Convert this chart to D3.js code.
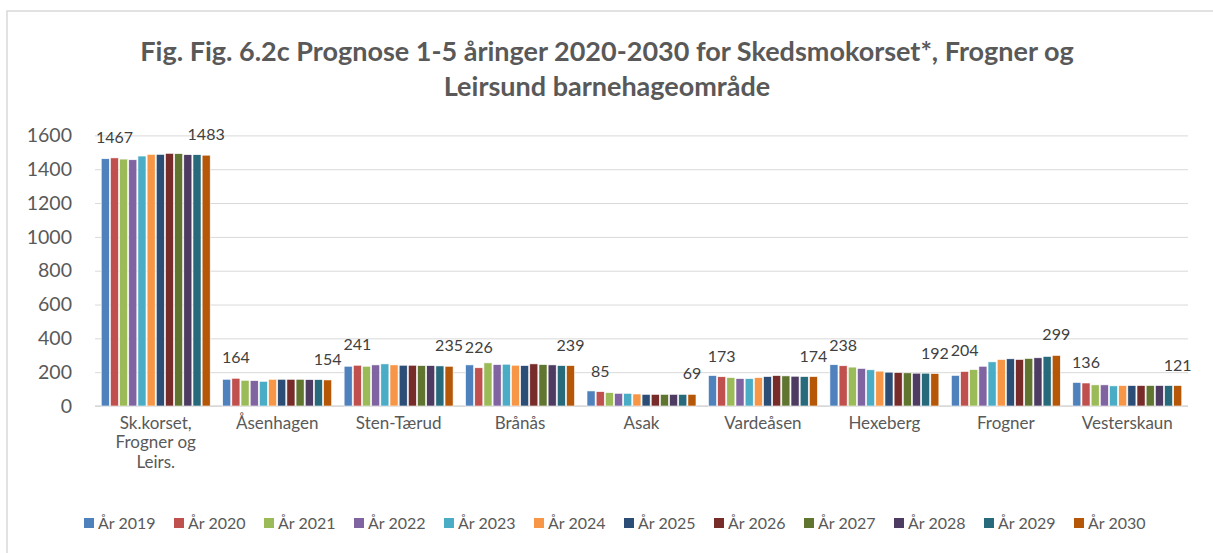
<!DOCTYPE html>
<html>
<head>
<meta charset="utf-8">
<script src="https://cdn.jsdelivr.net/npm/d3@7"></script>
<style>
  body { margin: 0; background: #fff; }
  svg { font-family: Lato, "Open Sans", sans-serif; }
</style>
</head>
<body>
<svg id="chart" width="1213" height="553"></svg>
<script>
const titleLines = ["Fig. Fig. 6.2c Prognose 1-5 åringer 2020-2030 for Skedsmokorset*, Frogner og",
                    "Leirsund barnehageområde"];
const categories = ["Sk.korset, Frogner og Leirs.", "Åsenhagen", "Sten-Tærud", "Brånås", "Asak",
                    "Vardeåsen", "Hexeberg", "Frogner", "Vesterskaun"];
const years = ["År 2019", "År 2020", "År 2021", "År 2022", "År 2023", "År 2024",
               "År 2025", "År 2026", "År 2027", "År 2028", "År 2029", "År 2030"];
const colors = ["#4F81BD", "#C0504D", "#9BBB59", "#8064A2", "#4BACC6", "#F79646",
                "#2C4D75", "#772C2A", "#5F7530", "#4D3B62", "#276A7C", "#B65708"];
const yTicks = [0, 200, 400, 600, 800, 1000, 1200, 1400, 1600];

// one row per area, one value per year 2019..2030
const skKorset   = [1462, 1467, 1460, 1456, 1478, 1488, 1488, 1494, 1492, 1486, 1486, 1483];
const asenhagen  = [158, 164, 152, 150, 146, 158, 158, 158, 158, 156, 156, 154];
const stenTaerud = [235, 241, 235, 243, 249, 243, 241, 241, 239, 239, 237, 235];
const branas     = [243, 226, 255, 245, 247, 241, 239, 249, 245, 243, 239, 239];
const asak       = [89, 85, 79, 75, 75, 71, 69, 69, 69, 69, 69, 69];
const vardeasen  = [180, 173, 168, 162, 162, 168, 174, 180, 178, 176, 174, 174];
const hexeberg   = [244, 238, 230, 222, 214, 206, 200, 198, 196, 194, 194, 192];
const frogner    = [181, 204, 215, 235, 261, 275, 279, 275, 281, 285, 293, 299];
const vesterskaun = [139, 136, 125, 125, 119, 121, 121, 121, 121, 121, 121, 121];
const values = [skKorset, asenhagen, stenTaerud, branas, asak, vardeasen, hexeberg, frogner, vesterskaun];
// years that carry a data label
const labelledYears = ["År 2020", "År 2030"];

const svg = d3.select("#chart");
const margin = { top: 135.4, left: 95, right: 1213 - 1188, bottom: 553 - 406 };
const width = 1213 - margin.left - margin.right;
const height = 553 - margin.top - margin.bottom;

// chart frame (right/bottom edges sit outside the picture)
svg.append("rect")
  .attr("x", 7).attr("y", 11)
  .attr("width", 1230).attr("height", 570)
  .attr("fill", "#fff")
  .attr("stroke", "#d9d9d9")
  .attr("stroke-width", 1.5);

// title
svg.append("g").selectAll("text")
  .data(titleLines)
  .join("text")
    .attr("x", 607)
    .attr("y", (d, i) => 61 + i * 35)
    .attr("text-anchor", "middle")
    .style("font-size", "27px")
    .style("font-weight", "bold")
    .style("fill", "#595959")
    .text(d => d);

const g = svg.append("g").attr("transform", `translate(${margin.left},${margin.top})`);

const x0 = d3.scaleBand().domain(categories).range([0, width]).paddingInner(0).paddingOuter(0);
const x1 = d3.scaleBand().domain(years).range([0, x0.bandwidth()]).paddingInner(0.12).paddingOuter(0.68);
const y = d3.scaleLinear().domain([0, 1600]).range([height, 0]);

// gridlines
g.append("g")
  .attr("class", "grid")
  .call(d3.axisLeft(y).tickValues(yTicks).tickSize(-width).tickFormat(""))
  .call(a => a.select(".domain").remove())
  .call(a => a.selectAll("line").attr("stroke", "#d9d9d9").attr("stroke-width", 1));

// y axis labels
g.append("g")
  .attr("class", "yAxis")
  .call(d3.axisLeft(y).tickValues(yTicks).tickSize(0).tickPadding(23).tickFormat(d3.format("d")))
  .call(a => a.select(".domain").remove())
  .call(a => a.selectAll("text").style("font-size", "19.5px").style("fill", "#595959").style("font-family", "Lato"));

// baseline
g.append("line")
  .attr("x1", 0).attr("x2", width)
  .attr("y1", y(0)).attr("y2", y(0))
  .attr("stroke", "#d9d9d9")
  .attr("stroke-width", 1.5);

// bars
const groups = g.append("g").selectAll("g")
  .data(categories)
  .join("g")
    .attr("transform", d => `translate(${x0(d)},0)`);

groups.selectAll("rect")
  .data((c, ci) => years.map((yr, i) => ({ year: yr, value: values[ci][i], color: colors[i] })))
  .join("rect")
    .attr("x", d => x1(d.year))
    .attr("y", d => y(d.value))
    .attr("width", x1.bandwidth())
    .attr("height", d => y(0) - y(d.value))
    .attr("fill", d => d.color)
    .attr("stroke", "#fff")
    .attr("stroke-width", 0.6);

// data labels on 2020 and 2030
groups.selectAll(".lbl")
  .data((c, ci) => labelledYears.map(yr => ({ year: yr, value: values[ci][years.indexOf(yr)] })))
  .join("text")
    .attr("class", "lbl")
    .attr("x", d => x1(d.year) + x1.bandwidth() / 2)
    .attr("y", d => y(d.value) - 15)
    .attr("text-anchor", "middle")
    .style("font-size", "16px")
    .style("fill", "#404040")
    .text(d => d.value);

// category labels, wrapped like Excel does
const wrapWords = (text, maxW, fontSize) => {
  const tmp = svg.append("text").style("font-size", fontSize + "px");
  const lines = [];
  let line = "";
  text.split(" ").forEach(w => {
    const test = line ? line + " " + w : w;
    tmp.text(test);
    if (tmp.node().getComputedTextLength() > maxW && line) {
      lines.push(line);
      line = w;
    } else {
      line = test;
    }
  });
  lines.push(line);
  tmp.remove();
  return lines;
};

const catG = g.append("g").attr("class", "xLabels");
categories.forEach(c => {
  const lines = wrapWords(c, 95, 17);
  const t = catG.append("text")
    .attr("x", x0(c) + x0.bandwidth() / 2)
    .attr("y", height + 23)
    .attr("text-anchor", "middle")
    .style("font-size", "17px")
    .style("fill", "#595959");
  lines.forEach((ln, i) => {
    t.append("tspan")
      .attr("x", x0(c) + x0.bandwidth() / 2)
      .attr("dy", i === 0 ? 0 : 19.5)
      .text(ln);
  });
});

// legend
const legend = svg.append("g")
  .attr("class", "legend")
  .attr("transform", "translate(84,523)");
const item = legend.selectAll("g")
  .data(years)
  .join("g")
    .attr("transform", (d, i) => `translate(${i * 90},0)`);
item.append("rect")
  .attr("x", 0).attr("y", -5)
  .attr("width", 10).attr("height", 10)
  .attr("fill", (d, i) => colors[i]);
item.append("text")
  .attr("x", 14)
  .attr("y", 5.5)
  .style("font-size", "16px")
  .style("fill", "#595959")
  .text(d => d);
</script>
</body>
</html>
